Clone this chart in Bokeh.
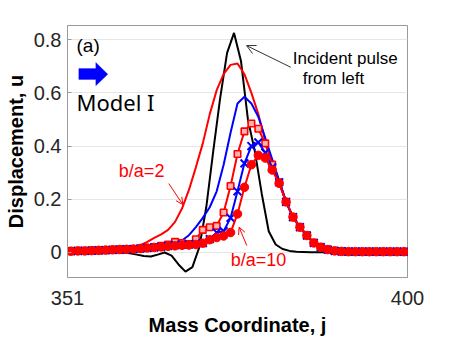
import numpy as np
from bokeh.plotting import figure
from bokeh.models import (ColumnDataSource, FixedTicker, NumeralTickFormatter, Label,
                          Arrow, OpenHead, PolyAnnotation, Range1d)
from bokeh.embed import file_html
from bokeh.resources import INLINE

# ---------------- data ----------------
j_incident = list(range(351, 401))
u_incident = [0.0, 0.0, 0.0, 0.0, 0.0, 0.0, 0.0, 0.002, 0.0, -0.003,
              -0.008, -0.013, -0.015, -0.008, 0.0, -0.012, -0.045, -0.072, -0.055, 0.02,
              0.17, 0.38, 0.58, 0.75, 0.825, 0.72, 0.5, 0.38, 0.22, 0.08,
              0.03, 0.013, 0.006, 0.003, 0.002, 0.001, 0.001, 0.001, 0.001, 0.001,
              0.001, 0.001, 0.001, 0.001, 0.001, 0.001, 0.001, 0.001, 0.001, 0.001]

j_model = [350.5 + k for k in range(51)]
u_ba2 = [0.005, 0.005, 0.006, 0.006, 0.007, 0.008, 0.009, 0.010, 0.011, 0.012,
         0.015, 0.028, 0.040, 0.055, 0.068, 0.085, 0.115, 0.165, 0.235, 0.32,
         0.41, 0.52, 0.61, 0.67, 0.705, 0.71, 0.67, 0.60, 0.52, 0.42,
         0.34, 0.27, 0.19, 0.133, 0.095, 0.064, 0.036, 0.02, 0.011, 0.006,
         0.004, 0.003, 0.003, 0.003, 0.003, 0.003, 0.003, 0.003, 0.003, 0.003, 0.003]
u_ba4 = [0.005, 0.005, 0.006, 0.006, 0.007, 0.008, 0.009, 0.010, 0.011, 0.012,
         0.013, 0.015, 0.017, 0.019, 0.022, 0.028, 0.035, 0.045, 0.065, 0.095,
         0.13, 0.17, 0.23, 0.33, 0.45, 0.56, 0.585, 0.56, 0.51, 0.43,
         0.35, 0.27, 0.19, 0.133, 0.095, 0.064, 0.036, 0.02, 0.011, 0.006,
         0.004, 0.003, 0.003, 0.003, 0.003, 0.003, 0.003, 0.003, 0.003, 0.003, 0.003]
u_ba6 = [0.005, 0.005, 0.006, 0.006, 0.007, 0.008, 0.009, 0.010, 0.011, 0.012,
         0.013, 0.015, 0.017, 0.02, 0.025, 0.03, 0.04, 0.035, 0.032, 0.05,
         0.085, 0.095, 0.1, 0.15, 0.25, 0.37, 0.455, 0.485, 0.465, 0.41,
         0.33, 0.264, 0.19, 0.133, 0.095, 0.064, 0.036, 0.02, 0.011, 0.006,
         0.004, 0.003, 0.003, 0.003, 0.003, 0.003, 0.003, 0.003, 0.003, 0.003, 0.003]
u_ba8 = [0.005, 0.005, 0.006, 0.006, 0.007, 0.008, 0.009, 0.010, 0.011, 0.012,
         0.013, 0.015, 0.017, 0.019, 0.021, 0.025, 0.028, 0.03, 0.03, 0.032,
         0.035, 0.05, 0.075, 0.08, 0.13, 0.23, 0.335, 0.40, 0.414, 0.375,
         0.32, 0.264, 0.19, 0.133, 0.095, 0.064, 0.036, 0.02, 0.011, 0.006,
         0.004, 0.003, 0.003, 0.003, 0.003, 0.003, 0.003, 0.003, 0.003, 0.003, 0.003]
u_ba10 = [0.005, 0.005, 0.006, 0.006, 0.007, 0.008, 0.009, 0.010, 0.011, 0.012,
          0.013, 0.015, 0.017, 0.019, 0.021, 0.023, 0.025, 0.027, 0.028, 0.03,
          0.035, 0.048, 0.056, 0.062, 0.075, 0.145, 0.245, 0.33, 0.365, 0.355,
          0.31, 0.26, 0.19, 0.133, 0.095, 0.064, 0.036, 0.02, 0.011, 0.006,
          0.004, 0.003, 0.003, 0.003, 0.003, 0.003, 0.003, 0.003, 0.003, 0.003, 0.003]

x_ticks = [351, 400]
y_ticks = [0, 0.2, 0.4, 0.6, 0.8]

# ---------------- figure ----------------
p = figure(width=450, height=338, output_backend="svg", toolbar_location=None,
           x_range=Range1d(351, 400), y_range=Range1d(-0.094, 0.853),
           min_border_left=67, min_border_right=43, min_border_top=25, min_border_bottom=61)
p.background_fill_color = "white"
p.border_fill_color = "white"
p.outline_line_color = "#9a9a9a"
p.outline_line_width = 1
p.xgrid.visible = False
p.ygrid.grid_line_color = "#e6e6e6"
p.ygrid.grid_line_width = 1

p.xaxis.ticker = FixedTicker(ticks=x_ticks)
p.yaxis.ticker = FixedTicker(ticks=y_ticks)
p.yaxis.formatter = NumeralTickFormatter(format="0.[0]")
for ax in (p.xaxis[0], p.yaxis[0]):
    ax.axis_line_color = "#9a9a9a"
    ax.major_tick_line_color = "#9a9a9a"
    ax.major_tick_in = 4
    ax.major_tick_out = 0
    ax.minor_tick_line_color = None
    ax.major_label_text_font = "Liberation Sans"
    ax.major_label_text_font_size = "20px"
    ax.major_label_text_color = "#262626"
    ax.axis_label_text_font = "Liberation Sans"
    ax.axis_label_text_font_style = "bold"
    ax.axis_label_text_font_size = "20px"
    ax.axis_label_text_color = "#000000"

p.xaxis.axis_label = "Mass Coordinate, j"
p.yaxis.axis_label = "Displacement, u"
p.xaxis.major_label_standoff = 13
p.xaxis.axis_label_standoff = 6
p.yaxis.major_label_standoff = 6
p.yaxis.axis_label_standoff = 4

src_inc = ColumnDataSource(dict(j=j_incident, u=u_incident))
src = ColumnDataSource(dict(j=j_model, a2=u_ba2, a4=u_ba4, a6=u_ba6, a8=u_ba8, a10=u_ba10))

RED = "#ff0000"
BLUE = "#0000ff"

p.line("j", "u", source=src_inc, line_color="black", line_width=2)
p.line("j", "a2", source=src, line_color=RED, line_width=2)
p.line("j", "a4", source=src, line_color=BLUE, line_width=2)
p.line("j", "a6", source=src, line_color=RED, line_width=2)
p.scatter("j", "a6", source=src, marker="square", size=6.5, line_color=RED,
          fill_color="#ffb4b4", line_width=1.6)
p.line("j", "a8", source=src, line_color=BLUE, line_width=2)
p.scatter("j", "a8", source=src, marker="x", size=11, line_color=BLUE, line_width=2)
p.line("j", "a10", source=src, line_color=RED, line_width=2)
p.scatter("j", "a10", source=src, marker="circle", size=8.5, line_color=RED,
          fill_color=RED)

# ---------------- annotations ----------------
p.add_layout(PolyAnnotation(xs=[352.63, 355.08, 355.08, 356.81, 355.08, 355.08, 352.63],
                            ys=[0.691, 0.691, 0.714, 0.670, 0.627, 0.650, 0.650],
                            fill_color=BLUE, fill_alpha=1.0, line_color=BLUE, line_width=1))

p.add_layout(Label(x=352.3, y=0.777, text="(a)", text_font="Liberation Sans",
                   text_font_size="19px", text_baseline="middle", text_color="black"))
p.add_layout(Label(x=352.3, y=0.565, text="Model I", text_font="Noto Sans",
                   text_font_size="22px", text_baseline="middle", text_color="black"))
p.add_layout(Label(x=383.47, y=0.7305, text="Incident pulse", text_font="Liberation Sans",
                   text_font_size="17px", text_baseline="middle", text_color="black"))
p.add_layout(Label(x=384.9, y=0.655, text="from left", text_font="Liberation Sans",
                   text_font_size="17px", text_baseline="middle", text_color="black"))
p.add_layout(Arrow(end=OpenHead(size=9, line_width=1, line_color="#333333"),
                   x_start=383.18, y_start=0.696, x_end=376.8, y_end=0.7775,
                   line_width=1, line_color="#333333"))

p.add_layout(Label(x=358.4, y=0.308, text="b/a=2", text_font="Liberation Sans",
                   text_font_size="18px", text_baseline="middle", text_color=RED))
p.add_layout(Arrow(end=OpenHead(size=7, line_width=1, line_color=RED),
                   x_start=365.6, y_start=0.259, x_end=367.62, y_end=0.18,
                   line_width=1, line_color=RED))
p.add_layout(Label(x=374.53, y=-0.028, text="b/a=10", text_font="Liberation Sans",
                   text_font_size="18px", text_baseline="middle", text_color=RED))
p.add_layout(Arrow(end=OpenHead(size=7, line_width=1, line_color=RED),
                   x_start=376.84, y_start=0.026, x_end=375.73, y_end=0.095,
                   line_width=1, line_color=RED))

open("out.html", "w").write(file_html(p, INLINE))
